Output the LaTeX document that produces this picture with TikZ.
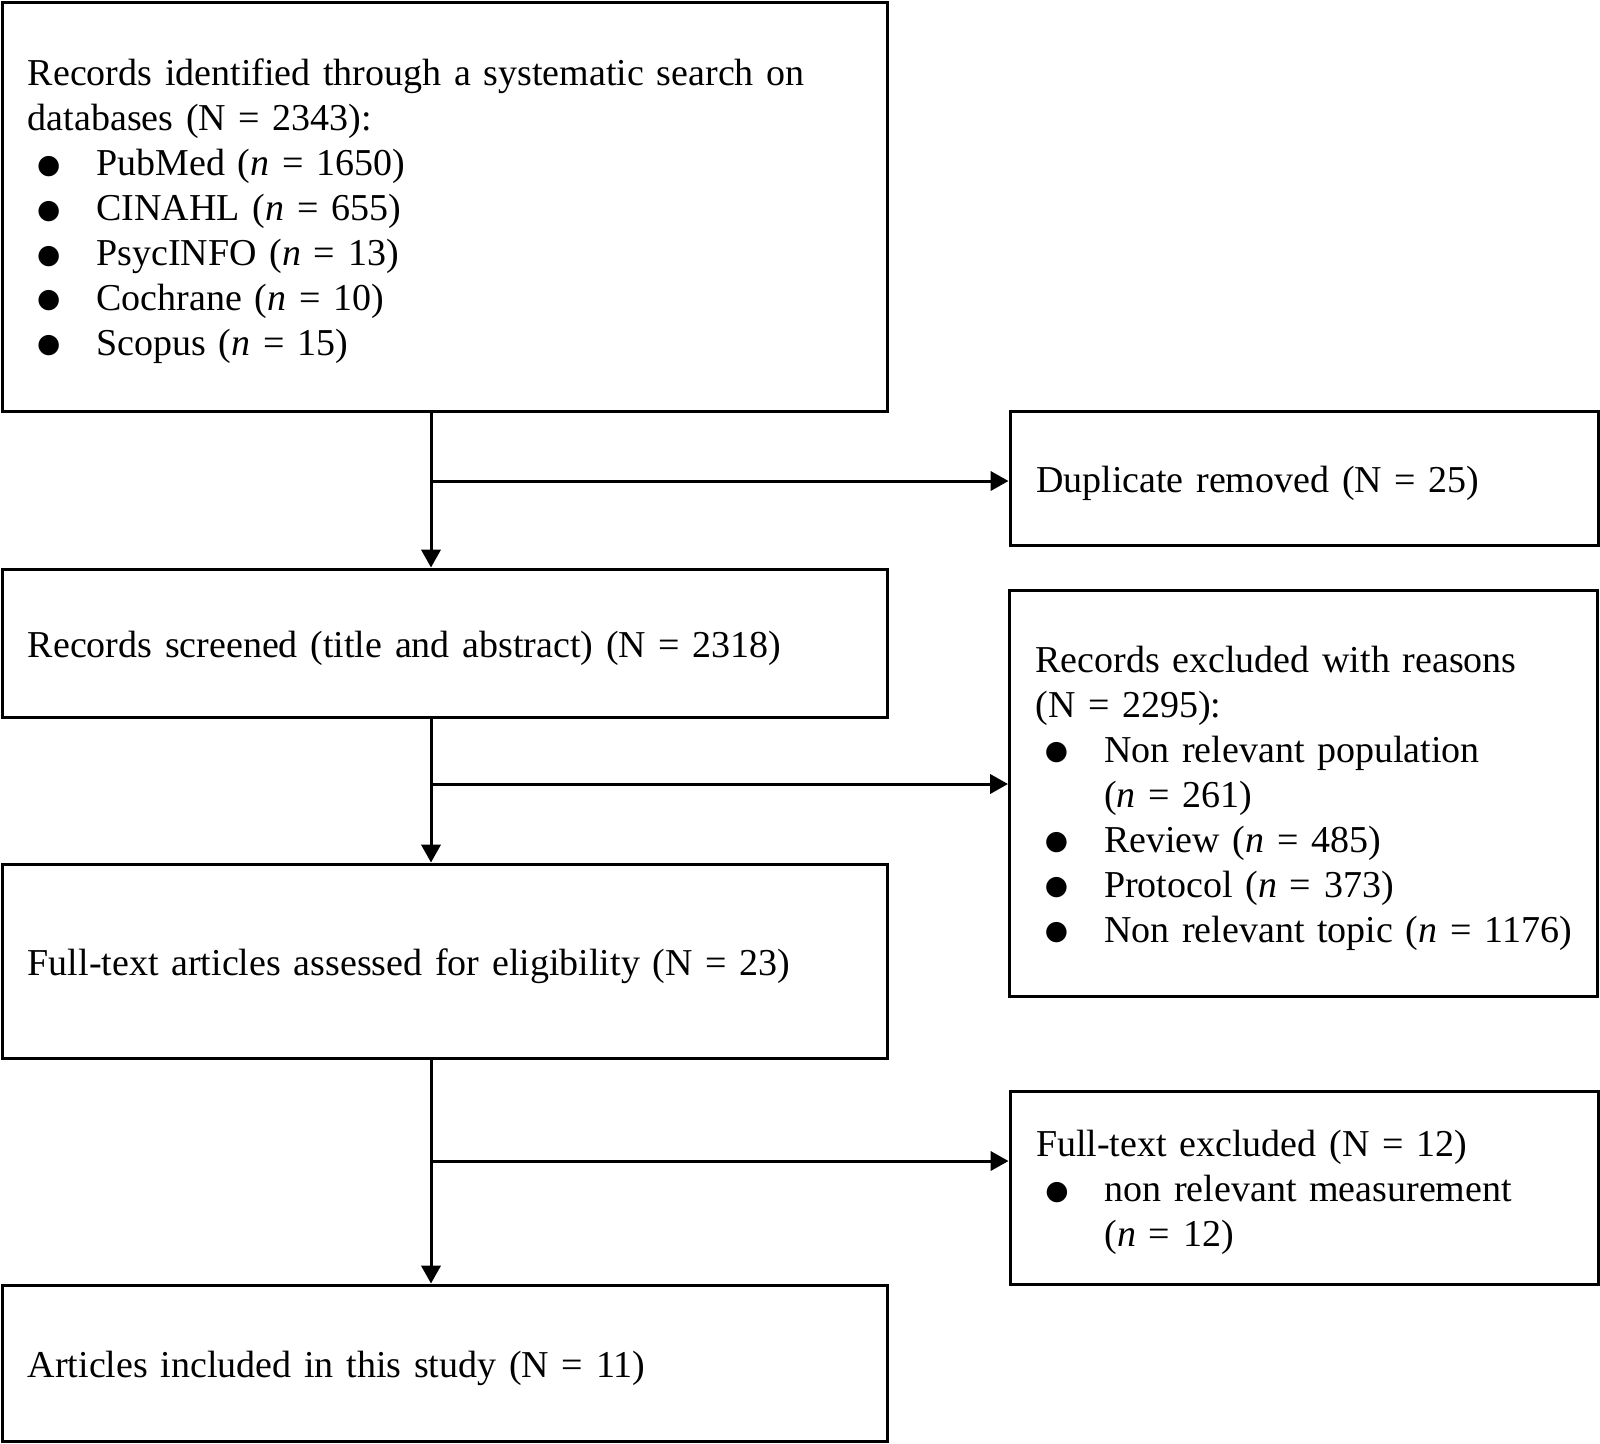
\documentclass[tikz,border=0pt]{standalone}
\usepackage{fontspec}
\setmainfont{Liberation Serif}
\newfontfamily\dotfont{DejaVu Sans}
\usetikzlibrary{arrows.meta}

\tikzset{every picture/.style={line width=2.25pt}}
\tikzset{
  flowbox/.style={draw, align=left, inner xsep=19.3pt, inner ysep=0pt,
    font=\fontsize{28.5}{33.7}\selectfont, execute at begin node={\rule{0pt}{27.5pt}}},
  leftbox/.style={flowbox, minimum width=663.75pt, text width=625pt},
  rightbox/.style={flowbox, minimum width=441pt, text width=402pt},
  flowarrow/.style={-{Triangle[length=13.5pt,width=14.5pt]}},
}
\newcommand{\bitem}[1]{\mbox{\hspace*{7pt}\makebox[44.5pt][l]{\raisebox{2pt}{\dotfont\fontsize{20}{20}\selectfont ●}}#1}}
\newcommand{\bcont}[1]{\mbox{\hspace*{51.5pt}#1}}

\begin{document}
\begin{tikzpicture}[x=0.75pt,y=0.75pt,yscale=-1,xscale=1]
\useasboundingbox (0,0) rectangle (1600,1443);

%Shape: Rectangle [records identified]
\node[leftbox, minimum height=306.75pt] (rec) at (444.5,206.5) {Records identified through a systematic search on\\
databases (N = 2343):\\
\bitem{PubMed (\textit{n} = 1650)}\\
\bitem{CINAHL (\textit{n} = 655)}\\
\bitem{PsycINFO (\textit{n} = 13)}\\
\bitem{Cochrane (\textit{n} = 10)}\\
\bitem{Scopus (\textit{n} = 15)}};

%Shape: Rectangle [duplicates]
\node[rightbox, minimum height=100.5pt] (dup) at (1304,478) {Duplicate removed (N = 25)};

%Shape: Rectangle [screened]
\node[leftbox, minimum height=111pt] (scr) at (444.5,643) {Records screened (title and abstract) (N = 2318)};

%Shape: Rectangle [excluded]
\node[rightbox, minimum height=304.5pt] (excl) at (1303.5,793) {Records excluded with reasons\\
(N = 2295):\\
\bitem{Non relevant population}\\
\bcont{(\textit{n} = 261)}\\
\bitem{Review (\textit{n} = 485)}\\
\bitem{Protocol (\textit{n} = 373)}\\
\bitem{Non relevant topic (\textit{n} = 1176)}};

%Shape: Rectangle [full text]
\node[leftbox, minimum height=145.5pt] (full) at (444.5,961) {Full-text articles assessed for eligibility (N = 23)};

%Shape: Rectangle [full text excluded]
\node[rightbox, minimum height=144.75pt] (ftex) at (1304,1187.5) {Full-text excluded (N = 12)\\
\bitem{non relevant measurement}\\
\bcont{(\textit{n} = 12)}};

%Shape: Rectangle [included]
\node[leftbox, minimum height=117pt] (inc) at (444.5,1363) {Articles included in this study (N = 11)};

% Junctions
\coordinate (j1) at (431,481);
\coordinate (j2) at (431,784);
\coordinate (j3) at (431,1161);

%Straight Lines
\draw[flowarrow] (rec.south -| j1) -- (scr.north -| j1);
\draw[flowarrow] (j1) -- (j1 -| dup.west);
\draw[flowarrow] (scr.south -| j2) -- (full.north -| j2);
\draw[flowarrow] (j2) -- (j2 -| excl.west);
\draw[flowarrow] (full.south -| j3) -- (inc.north -| j3);
\draw[flowarrow] (j3) -- (j3 -| ftex.west);

\end{tikzpicture}
\end{document}
